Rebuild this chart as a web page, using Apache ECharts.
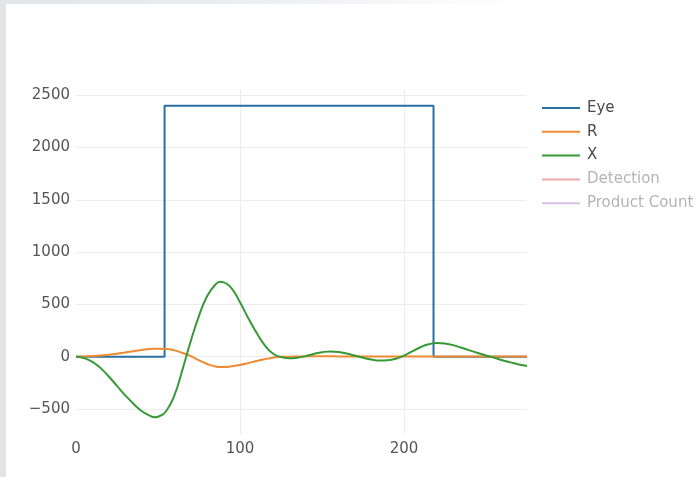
<!DOCTYPE html>
<html>
<head>
<meta charset="utf-8">
<script src="https://cdn.jsdelivr.net/npm/echarts@6/dist/echarts.min.js"></script>
<style>
  html, body { margin: 0; padding: 0; background: #fff; }
  #wrap { position: relative; width: 699px; height: 477px; overflow: hidden; }
  #chart { position: absolute; left: 0; top: 0; width: 699px; height: 477px; }
  .edge-left { position: absolute; left: 0; top: 0; width: 6px; height: 477px; background: #e2e4e7; }
  .edge-top { position: absolute; left: 0; top: 0; width: 699px; height: 4px;
    background: linear-gradient(to right, #e2e4e7 0%, #eeeff1 40%, #ffffff 75%); }
</style>
</head>
<body>
<div id="wrap">
  <div id="chart"></div>
  <div class="edge-top"></div>
  <div class="edge-left"></div>
</div>
<script>
// sample positions for the smooth traces
var xs = [0, 5, 10, 15, 20, 25, 30, 35, 40, 45, 48, 50, 55, 60, 65, 70, 75, 80, 85, 88, 90, 95,
  100, 105, 110, 115, 120, 125, 130, 135, 140, 145, 150, 155, 160, 165, 170, 175, 180, 185,
  190, 195, 200, 205, 210, 215, 220, 225, 230, 235, 240, 245, 250, 255, 260, 265, 270, 275];

var xVals = [0, -15, -50, -110, -190, -280, -370, -450, -520, -565, -580, -575, -520, -370, -120,
  150, 390, 580, 690, 715, 710, 650, 520, 370, 230, 110, 30, -5, -15, -10, 5, 25, 42, 50, 45,
  30, 10, -10, -28, -38, -35, -20, 10, 50, 90, 118, 130, 125, 110, 85, 60, 35, 10, -10, -35,
  -55, -75, -90];

var rVals = [0, 2, 5, 10, 18, 28, 40, 52, 63, 72, 75, 76, 74, 60, 35, 5, -35, -70, -95, -100,
  -100, -92, -80, -62, -42, -25, -10, -2, 0, 1, 2, 3, 3, 3, 2, 2, 2, 2, 2, 2, 2, 2, 2, 2, 2, 2,
  2, 2, 2, 2, 2, 2, 2, 2, 2, 2, 2, 2];

// Eye is a step signal
var eyeX = [0, 54, 54, 218, 218, 275];
var eyeY = [0, 0, 2400, 2400, 0, 0];

// these two are hidden in the original (legend only)
var detection = [];
var productCount = [];

function pairs(a, b) {
  return a.map(function (v, i) { return [v, b[i]]; });
}

var chart = echarts.init(document.getElementById('chart'));

var gridColor = '#ececec';
var font = 'DejaVu Sans, Verdana, sans-serif';

var option = {
  animation: false,
  textStyle: { fontFamily: font },
  grid: { left: 76, right: 172, top: 90, bottom: 43 },
  legend: {
    orient: 'vertical',
    left: 542,
    top: 99,
    padding: 0,
    icon: 'rect',
    itemWidth: 38,
    itemHeight: 2,
    itemGap: 5.8,
    textStyle: { color: '#4a4a4a', fontSize: 15, lineHeight: 18, padding: [0, 0, 0, 2] },
    data: [
      { name: 'Eye' },
      { name: 'R' },
      { name: 'X' },
      { name: 'Detection', textStyle: { color: '#b4b4b4' } },
      { name: 'Product Count', textStyle: { color: '#b4b4b4' } }
    ]
  },
  xAxis: {
    type: 'value',
    min: 0,
    max: 275,
    interval: 100,
    axisLine: { show: false },
    axisTick: { show: false },
    axisLabel: {
      color: '#555', fontSize: 15, margin: 8,
      showMaxLabel: false
    },
    splitLine: {
      lineStyle: { color: ['transparent', gridColor, gridColor], width: 1 }
    }
  },
  yAxis: {
    type: 'value',
    min: -740,
    max: 2550,
    axisLine: { show: false },
    axisTick: { show: false },
    axisLabel: {
      color: '#555', fontSize: 15, margin: 6,
      showMinLabel: false, showMaxLabel: false,
      formatter: function (v) { return String(v).replace('-', '\u2212'); }
    },
    splitLine: {
      lineStyle: {
        color: ['transparent', gridColor, gridColor, gridColor, gridColor, gridColor,
          gridColor, gridColor, 'transparent'],
        width: 1
      }
    }
  },
  series: [
    {
      name: 'Eye', type: 'line', symbol: 'none',
      data: pairs(eyeX, eyeY),
      color: '#2a6fa3',
      lineStyle: { width: 2 }
    },
    {
      name: 'R', type: 'line', symbol: 'none', smooth: 0.5,
      data: pairs(xs, rVals),
      color: '#f08a30',
      lineStyle: { width: 2 }
    },
    {
      name: 'X', type: 'line', symbol: 'none', smooth: 0.5,
      data: pairs(xs, xVals),
      color: '#359a35',
      lineStyle: { width: 2 }
    },
    {
      name: 'Detection', type: 'line', symbol: 'none',
      data: detection,
      color: 'rgba(214,39,40,0.4)',
      lineStyle: { width: 2 }
    },
    {
      name: 'Product Count', type: 'line', symbol: 'none',
      data: productCount,
      color: 'rgba(148,103,189,0.4)',
      lineStyle: { width: 2 }
    }
  ]
};

chart.setOption(option);
</script>
</body>
</html>
